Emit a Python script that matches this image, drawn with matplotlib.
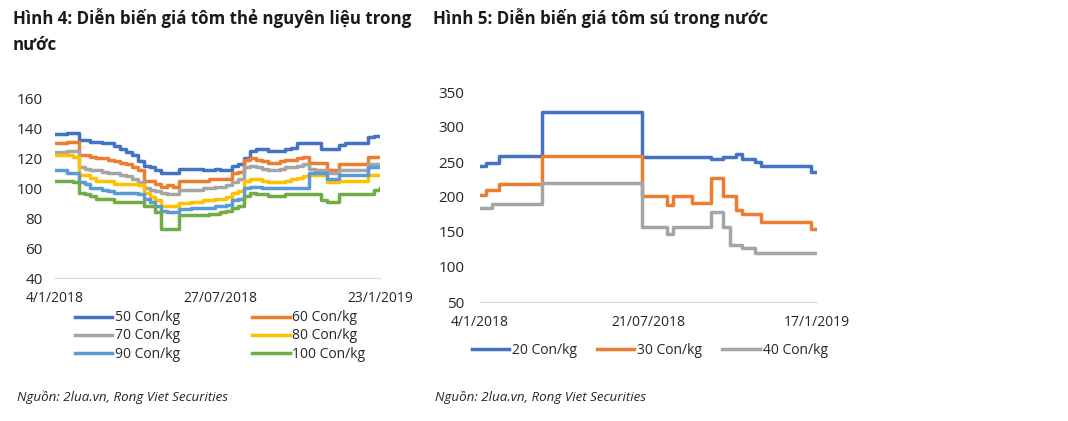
import matplotlib
matplotlib.use('Agg')
import matplotlib.pyplot as plt

plt.rcParams['font.family'] = ['Open Sans', 'DejaVu Sans']

# Hinh 4: gia tom the (weekly, 4/1/2018 - 23/1/2019)
the_ticks = ['4/1/2018', '27/07/2018', '23/1/2019']
the_labels = ['50 Con/kg', '60 Con/kg', '70 Con/kg', '80 Con/kg', '90 Con/kg', '100 Con/kg']
the_50 = [136, 136, 137, 137, 132, 132, 131, 131, 130, 130, 128, 126, 124, 122, 118, 115, 114, 112, 110, 110,
          110, 113, 113, 113, 113, 112, 112, 113, 112, 112, 115, 116, 120, 125, 126, 126, 125, 125, 125, 126,
          127, 130, 130, 130, 130, 126, 126, 126, 129, 130, 130, 130, 130, 134, 135, 135]
the_60 = [130, 130, 131, 131, 122, 122, 121, 120, 120, 119, 118, 117, 116, 114, 112, 105, 105, 103, 101, 102,
          101, 105, 105, 105, 105, 105, 106, 106, 106, 106, 110, 111, 119, 120, 119, 118, 117, 117, 118, 119,
          119, 120, 121, 117, 117, 117, 112, 112, 116, 116, 116, 116, 116, 121, 121, 121]
the_70 = [124, 124, 125, 125, 114, 113, 112, 112, 111, 110, 110, 109, 108, 106, 104, 100, 99, 98, 97, 96,
          96, 99, 99, 99, 99, 100, 100, 101, 101, 102, 104, 106, 114, 115, 114, 113, 112, 112, 113, 114,
          114, 115, 116, 113, 112, 112, 110, 110, 112, 112, 112, 112, 112, 116, 116, 115]
the_80 = [122, 122, 122, 121, 109, 109, 107, 105, 105, 105, 103, 103, 103, 103, 102, 97, 94, 92, 88, 88,
          88, 90, 90, 91, 91, 92, 92, 93, 93, 94, 97, 98, 105, 106, 106, 105, 104, 104, 104, 105,
          106, 107, 108, 109, 109, 109, 104, 104, 105, 105, 105, 105, 105, 109, 109, 109]
the_90 = [112, 112, 110, 110, 104, 103, 100, 100, 99, 98, 97, 97, 97, 97, 96, 93, 91, 88, 85, 84,
          84, 86, 86, 87, 87, 87, 87, 88, 88, 89, 92, 93, 100, 101, 101, 100, 100, 100, 100, 100,
          100, 100, 100, 110, 110, 110, 106, 106, 109, 109, 109, 109, 109, 114, 114, 114]
the_100 = [105, 105, 105, 104, 97, 96, 95, 93, 93, 93, 91, 91, 91, 91, 91, 88, 88, 84, 73, 73,
           73, 82, 82, 82, 82, 82, 83, 83, 84, 85, 87, 88, 95, 97, 96, 96, 95, 95, 95, 96,
           96, 96, 96, 96, 96, 92, 91, 91, 96, 96, 96, 96, 96, 96, 99, 100]
the_colors = ['#4472C4', '#ED7D31', '#A5A5A5', '#FFC000', '#5B9BD5', '#70AD47']

# Hinh 5: gia tom su (weekly, 4/1/2018 - 17/1/2019)
su_ticks = ['4/1/2018', '21/07/2018', '17/1/2019']
su_labels = ['20 Con/kg', '30 Con/kg', '40 Con/kg']
su_20 = [244, 249, 249, 258, 258, 258, 258, 258, 258, 258, 322, 322, 322, 322, 322, 322, 322, 322, 322, 322,
         322, 322, 322, 322, 322, 322, 257, 257, 257, 257, 257, 257, 257, 257, 257, 257, 257, 254, 254, 257,
         257, 261, 254, 254, 250, 244, 244, 244, 244, 244, 244, 244, 244, 236, 236]
su_30 = [203, 210, 210, 218, 218, 218, 218, 218, 218, 218, 258, 258, 258, 258, 258, 258, 258, 258, 258, 258,
         258, 258, 258, 258, 258, 258, 201, 201, 201, 201, 188, 201, 201, 201, 192, 192, 192, 227, 227, 201,
         201, 181, 176, 176, 176, 165, 165, 165, 165, 165, 165, 165, 165, 155, 155]
su_40 = [184, 184, 190, 190, 190, 190, 190, 190, 190, 190, 220, 220, 220, 220, 220, 220, 220, 220, 220, 220,
         220, 220, 220, 220, 220, 220, 157, 157, 157, 157, 147, 157, 157, 157, 157, 157, 157, 179, 179, 157,
         131, 131, 127, 127, 120, 120, 120, 120, 120, 120, 120, 120, 120, 120, 120]
su_colors = ['#4472C4', '#ED7D31', '#A5A5A5']

W, H = 1068, 421
TXT = '#262626'


def px(x, y):
    return x / W, 1 - y / H


def style_axis(ax, n, ticks, ylim, yticks):
    ax.set_xlim(0, n - 1)
    ax.set_ylim(*ylim)
    ax.set_yticks(yticks)
    ax.set_xticks([0, n // 2, n - 1])
    ax.set_xticklabels(ticks)
    for s in ['top', 'right', 'left']:
        ax.spines[s].set_visible(False)
    ax.spines['bottom'].set_color('#d9d9d9')
    ax.tick_params(length=0, labelsize=10, colors=TXT)
    ax.tick_params(axis='y', labelsize=11)


fig = plt.figure(figsize=(W / 100, H / 100), dpi=100)

# left chart
ax1 = fig.add_axes([55 / W, 1 - 278 / H, 325 / W, 180 / H])
series = [the_50, the_60, the_70, the_80, the_90, the_100]
lines = []
for vals, c, lab in zip(series, the_colors, the_labels):
    ln, = ax1.plot(range(len(vals)), vals, color=c, lw=2.5, drawstyle='steps-post', label=lab)
    lines.append(ln)
style_axis(ax1, len(the_50), the_ticks, (40, 160), range(40, 161, 20))
ax1.tick_params(axis='y', pad=9)
ax1.tick_params(axis='x', pad=9)
# legend fills column by column, so reorder to read row by row
order = [0, 2, 4, 1, 3, 5]
ax1.legend([lines[i] for i in order], [the_labels[i] for i in order],
           loc='upper left', bbox_to_anchor=(0.06, -0.18), ncol=2, frameon=False,
           fontsize=10, handlelength=2.7, handletextpad=0.2, columnspacing=5.2,
           labelspacing=0.22, borderpad=0, borderaxespad=0, labelcolor=TXT)

# right chart
ax2 = fig.add_axes([480 / W, 1 - 302 / H, 337 / W, 210 / H])
for vals, c, lab in zip([su_20, su_30, su_40], su_colors, su_labels):
    ax2.plot(range(len(vals)), vals, color=c, lw=2.5, drawstyle='steps-post', label=lab)
style_axis(ax2, len(su_20), su_ticks, (50, 350), range(50, 351, 50))
ax2.tick_params(axis='y', pad=11)
ax2.tick_params(axis='x', pad=9)
ax2.legend(loc='upper left', bbox_to_anchor=(-0.025, -0.195), ncol=3, frameon=False,
           fontsize=10, handlelength=2.7, handletextpad=0.2, columnspacing=1.45,
           borderpad=0, borderaxespad=0, labelcolor=TXT)

# titles and sources
fig.text(*px(13, 18), 'Hình 4: Diễn biến giá tôm thẻ nguyên liệu trong', fontsize=12.2,
         fontweight='bold', va='center', color='#1a1a1a')
fig.text(*px(13, 45), 'nước', fontsize=12.2, fontweight='bold', va='center', color='#1a1a1a')
fig.text(*px(433, 18), 'Hình 5: Diễn biến giá tôm sú trong nước', fontsize=12.2,
         fontweight='bold', va='center', color='#1a1a1a')
fig.text(*px(17, 397), 'Nguồn: 2lua.vn, Rong Viet Securities', fontsize=9.6,
         style='italic', va='center', color=TXT)
fig.text(*px(435, 397), 'Nguồn: 2lua.vn, Rong Viet Securities', fontsize=9.6,
         style='italic', va='center', color=TXT)

fig.savefig('out.png', dpi=100)
